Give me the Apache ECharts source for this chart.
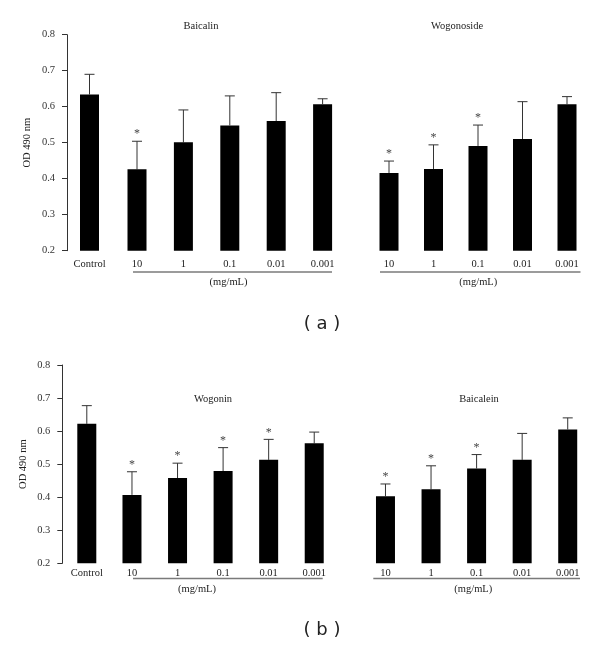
<!DOCTYPE html>
<html><head><meta charset="utf-8">
<script src="https://cdn.jsdelivr.net/npm/echarts@6/dist/echarts.min.js"></script>
<style>html,body{margin:0;padding:0;background:#fff}#c{width:600px;height:645px}</style>
</head><body><div id="c"></div>
<script>
// ---- data ----
const doseLabels = ['10', '1', '0.1', '0.01', '0.001'];
const controlLabel = ['Control'];
const yTicks = [0.2, 0.3, 0.4, 0.5, 0.6, 0.7, 0.8];

// panel (a)
const aControl = [0.634], aControlErr = [0.056], aControlSig = [0];
const baicalin = [0.426, 0.501, 0.548, 0.560, 0.607];
const baicalinErr = [0.078, 0.090, 0.082, 0.079, 0.015];
const baicalinSig = [1, 0, 0, 0, 0];
const wogonoside = [0.416, 0.427, 0.491, 0.510, 0.607];
const wogonosideErr = [0.033, 0.067, 0.058, 0.104, 0.021];
const wogonosideSig = [1, 1, 1, 0, 0];

// panel (b)
const bControl = [0.622], bControlErr = [0.055], bControlSig = [0];
const wogonin = [0.407, 0.458, 0.479, 0.513, 0.563];
const wogoninErr = [0.070, 0.045, 0.071, 0.062, 0.034];
const wogoninSig = [1, 1, 1, 1, 0];
const baicalein = [0.403, 0.424, 0.487, 0.513, 0.605];
const baicaleinErr = [0.037, 0.071, 0.042, 0.080, 0.035];
const baicaleinSig = [1, 1, 1, 0, 0];

// ---- layout ----
const SERIF = '"Liberation Serif", "DejaVu Serif", serif';
const grids = [
  {left: 67, top: 34.7, width: 45, height: 216},
  {left: 113.8, top: 34.7, width: 232, height: 216},
  {left: 366.75, top: 34.7, width: 222.5, height: 216},
  {left: 62.3, top: 365, width: 49, height: 198.3},
  {left: 109.2, top: 365, width: 227.8, height: 198.3},
  {left: 362.7, top: 365, width: 227.8, height: 198.3}
];
const panels = [
  {cats: controlLabel, vals: aControl, errs: aControlErr, sig: aControlSig},
  {cats: doseLabels, vals: baicalin, errs: baicalinErr, sig: baicalinSig},
  {cats: doseLabels, vals: wogonoside, errs: wogonosideErr, sig: wogonosideSig},
  {cats: controlLabel, vals: bControl, errs: bControlErr, sig: bControlSig},
  {cats: doseLabels, vals: wogonin, errs: wogoninErr, sig: wogoninSig},
  {cats: doseLabels, vals: baicalein, errs: baicaleinErr, sig: baicaleinSig}
];

const xAxes = [], yAxes = [], series = [];
panels.forEach((p, i) => {
  const isB = i >= 3;
  const showY = (i === 0 || i === 3);
  xAxes.push({
    type: 'category', gridIndex: i, data: p.cats,
    axisLine: {show: false}, axisTick: {show: false}, splitLine: {show: false},
    axisLabel: {fontFamily: SERIF, fontSize: 10.5, color: '#222', margin: isB ? 4 : 8.5, interval: 0}
  });
  yAxes.push({
    type: 'value', gridIndex: i, min: yTicks[0], max: yTicks[yTicks.length - 1], interval: 0.1,
    show: showY,
    name: showY ? 'OD 490 nm' : '', nameLocation: 'middle', nameRotate: 90, nameGap: 34,
    nameTextStyle: {fontFamily: SERIF, fontSize: 10.5, color: '#222'},
    axisLine: {show: showY, lineStyle: {color: '#333', width: 1}},
    axisTick: {show: showY, length: 5, lineStyle: {color: '#333'}},
    axisLabel: {show: showY, fontFamily: SERIF, fontSize: 10.5, color: '#333', margin: 12,
      formatter: v => v.toFixed(1)},
    splitLine: {show: false}
  });
  series.push({
    type: 'bar', xAxisIndex: i, yAxisIndex: i, data: p.vals, barWidth: 19,
    itemStyle: {color: '#000'}, silent: true, animation: false
  });
  series.push({
    type: 'custom', xAxisIndex: i, yAxisIndex: i, animation: false, silent: true,
    data: p.vals.map((v, k) => [k, v, p.errs[k], p.sig[k]]),
    renderItem: function (params, api) {
      const x = api.value(0), v = api.value(1), e = api.value(2), s = api.value(3);
      const pBot = api.coord([x, v]);
      const pTop = api.coord([x, v + e]);
      const st = {stroke: '#333', lineWidth: 1};
      const children = [
        {type: 'line', shape: {x1: pBot[0], y1: pBot[1], x2: pTop[0], y2: pTop[1]}, style: st},
        {type: 'line', shape: {x1: pTop[0] - 5, y1: pTop[1], x2: pTop[0] + 5, y2: pTop[1]}, style: st}
      ];
      if (s) {
        children.push({type: 'text', x: pTop[0], y: pTop[1] - 1,
          style: {text: '*', textAlign: 'center', textVerticalAlign: 'bottom',
            fontFamily: SERIF, fontSize: 12, fill: '#444'}});
      }
      return {type: 'group', children: children};
    }
  });
});

const txt = (x, y, t, size, font) => ({type: 'text', x: x, y: y,
  style: {text: t, fontFamily: font || SERIF, fontSize: size || 10, fill: '#222',
    textAlign: 'center', textVerticalAlign: 'middle'}, silent: true});
const hline = (x1, x2, y) => ({type: 'line', shape: {x1: x1, y1: y, x2: x2, y2: y},
  style: {stroke: '#7a7a7a', lineWidth: 1.3}, silent: true});

const graphics = [
  txt(201, 26, 'Baicalin', 10.5), txt(457, 26.5, 'Wogonoside', 10.5),
  txt(213, 399, 'Wogonin', 10.5), txt(479, 399, 'Baicalein', 10.5),
  hline(133, 332, 272), hline(380, 580.5, 272),
  hline(133, 322.7, 578.5), hline(373.3, 580, 578.5),
  txt(228.5, 282, '(mg/mL)', 10.5), txt(478.3, 282, '(mg/mL)', 10.5),
  txt(197, 589.5, '(mg/mL)', 10.5), txt(473.3, 589.5, '(mg/mL)', 10.5),
  txt(322, 324, '( a )', 18, '"DejaVu Sans", sans-serif'),
  txt(322, 630, '( b )', 18, '"DejaVu Sans", sans-serif')
];

const chart = echarts.init(document.getElementById('c'), null, {renderer: 'canvas'});
chart.setOption({
  animation: false,
  backgroundColor: '#fff',
  grid: grids.map(g => Object.assign({containLabel: false}, g)),
  xAxis: xAxes, yAxis: yAxes, series: series,
  graphic: graphics
});
</script></body></html>
